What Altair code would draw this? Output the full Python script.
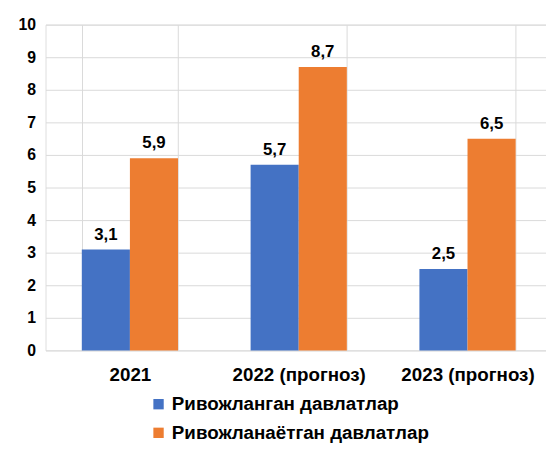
import altair as alt
import pandas as pd

categories = ["2021", "2022 (прогноз)", "2023 (прогноз)"]
series = ["Ривожланган давлатлар", "Ривожланаётган давлатлар"]
developed = [3.1, 5.7, 2.5]
developing = [5.9, 8.7, 6.5]

rows = []
for c, a, b in zip(categories, developed, developing):
    rows.append({"cat": c, "series": series[0], "value": a})
    rows.append({"cat": c, "series": series[1], "value": b})
df = pd.DataFrame(rows)

FONT = "Liberation Sans"

x = alt.X("cat:N", sort=categories, title=None,
          scale=alt.Scale(paddingInner=0.43, paddingOuter=0.215, range=[0, 513]),
          axis=alt.Axis(labelAngle=0, labelFont=FONT, labelFontSize=19, labelFontWeight="bold",
                        labelColor="#000000", labelPadding=15, domain=False, ticks=False,
                        grid=True, gridColor="#d9d9d9", gridWidth=1, tickBand="extent"))
xo = alt.XOffset("series:N", sort=series, scale=alt.Scale(paddingInner=0, paddingOuter=0))
y = alt.Y("value:Q", title=None,
          scale=alt.Scale(domain=[0, 10], nice=False),
          axis=alt.Axis(values=list(range(0, 11)), labelFont=FONT, labelFontSize=16,
                        labelFontWeight="bold", labelColor="#000000", labelPadding=10,
                        labelOverlap=False, domain=False, ticks=False, grid=True,
                        gridColor="#d9d9d9", gridWidth=1))
color = alt.Color("series:N", sort=series,
                  scale=alt.Scale(domain=series, range=["#4472C4", "#ED7D31"]),
                  legend=alt.Legend(title=None, orient="none", legendX=105, legendY=375,
                                    direction="vertical", symbolType="square", symbolSize=110,
                                    symbolStrokeWidth=0, labelFont=FONT, labelFontSize=19,
                                    labelFontWeight="bold", labelColor="#000000", labelLimit=0,
                                    rowPadding=9, labelOffset=4, padding=0))

base = alt.Chart(df)
bars = base.mark_bar().encode(x=x, xOffset=xo, y=y, color=color)
labels = base.transform_calculate(
    lbl="replace(format(datum.value, '.1f'), '.', ',')"
).mark_text(font=FONT, fontSize=17, fontWeight="bold", color="#000000",
            baseline="alphabetic", dy=-10).encode(
    x=x, xOffset=xo, y=y, text="lbl:N")

chart = alt.layer(bars, labels).properties(
    width=507, height=330,
    autosize=alt.AutoSizeParams(type="none"),
    padding={"left": 38, "top": 14, "right": 0, "bottom": 94},
).configure_view(stroke=None).configure(background="#ffffff")

chart.save("out.html", embed_options={"renderer": "svg", "actions": False})
